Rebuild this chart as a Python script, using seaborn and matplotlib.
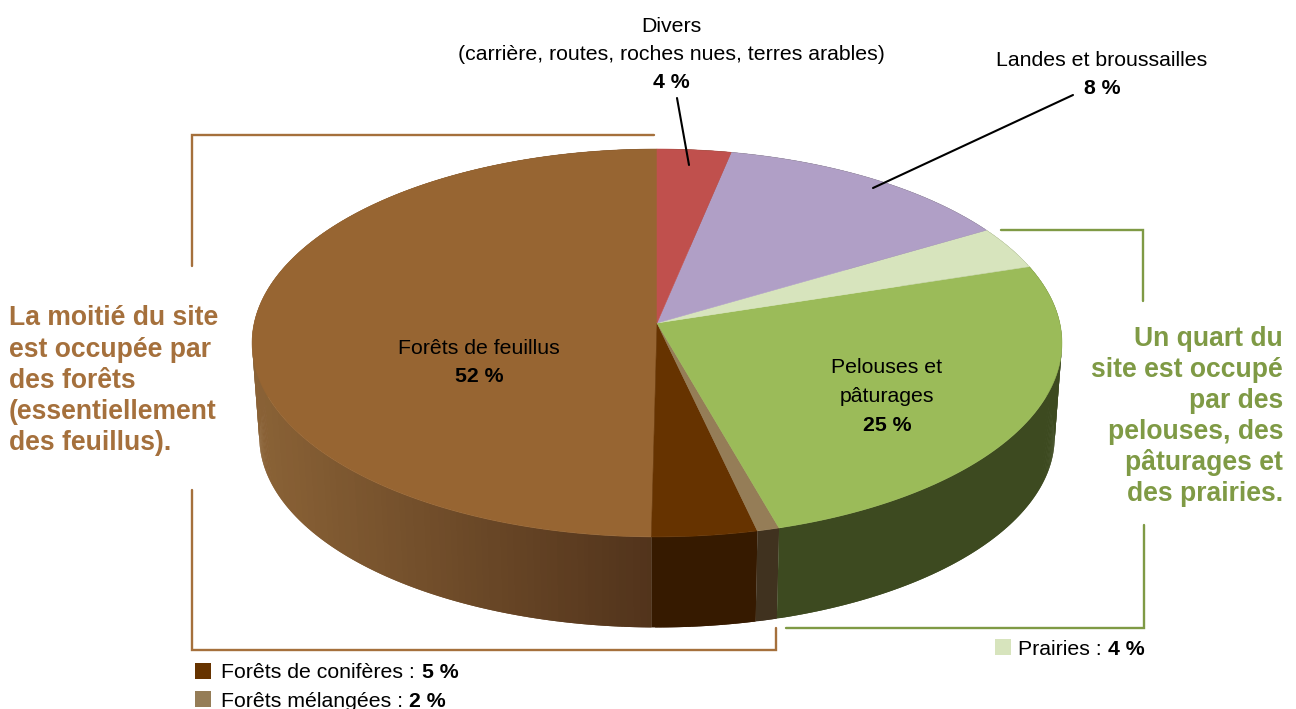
import numpy as np
import seaborn as sns
import matplotlib
matplotlib.use('Agg')
import matplotlib.pyplot as plt

# Slices in drawing order, counter-clockwise from 12 o'clock
slices = ['Forêts de feuillus', 'Forêts de conifères', 'Forêts mélangées',
          'Pelouses et pâturages', 'Prairies', 'Landes et broussailles', 'Divers']
# what the labels say
label_pct = [52, 5, 2, 25, 4, 8, 4]
# what the pie actually shows (the drawn angles differ from the labels)
drawn_share = [49.8, 3.8, 0.8, 25.5, 3.6, 13.25, 3.25]

top_colors = ['#976532', '#663300', '#957d57', '#9bbb59', '#d7e4bd', '#b09fc6', '#c0504d']
wall_left = ['#8a6236', '#361a00', '#40321f', '#3d4a20', '#3d4a20', '#3d4a20', '#3d4a20']
wall_right = ['#51331b', '#361a00', '#40321f', '#3d4a20', '#3d4a20', '#3d4a20', '#3d4a20']

brown = '#a5703c'
green = '#7f9a45'

sns.set_theme(style='white')
plt.rcParams['font.family'] = ['Liberation Sans', 'DejaVu Sans']

fig = plt.figure(figsize=(12.96, 7.09), dpi=100)
ax = fig.add_axes([0, 0, 1, 1])
ax.set_xlim(0, 1296)
ax.set_ylim(709, 0)
ax.axis('off')

# perspective projection of the pie disc
CX, CY = 657, 323
PERSP = 0.103
RX, RY = 402.8, 191.9
# bottom disc is a bit smaller and lower
ELL_Y = 343
BOT_Y = 437
BOT_SCALE = 0.982


def project(t):
    d = 1 + PERSP * np.sin(t)
    return CX + RX * np.cos(t) / d, CY - RY * np.sin(t) / d


def drop(x, y):
    return CX + (x - CX) * BOT_SCALE, BOT_Y + (y - ELL_Y) * BOT_SCALE


ends = np.cumsum([0] + drawn_share) / sum(drawn_share)
angles = np.pi / 2 + ends * 2 * np.pi

# walls first, the top faces hide the back part
for i in range(len(slices)):
    ts = np.linspace(angles[i], angles[i + 1], max(int(drawn_share[i] * 8), 8))
    pal = sns.blend_palette([wall_left[i], wall_right[i]], 64)
    xs, ys = project(ts)
    xb, yb = drop(xs, ys)
    for j in range(len(ts) - 1):
        frac = np.clip((xs[j] - 252) / (651 - 252), 0, 1)
        c = pal[int(frac * 63)]
        # each band runs under the next one so no seams show
        k = min(j + 2, len(ts) - 1)
        ax.fill([xs[j], xs[k], xb[k], xb[j]], [ys[j], ys[k], yb[k], yb[j]],
                color=c, lw=0, zorder=1)

for i in range(len(slices)):
    ts = np.linspace(angles[i], angles[i + 1], 200)
    xs, ys = project(ts)
    ax.fill(np.r_[CX, xs], np.r_[CY, ys], color=top_colors[i], lw=0.4, zorder=2)

# brackets
ax.plot([192, 192, 654], [266, 135, 135], color=brown, lw=1.7, zorder=3, solid_joinstyle='miter')
ax.plot([192, 192, 776, 776], [490, 650, 650, 628], color=brown, lw=1.7, zorder=3, solid_joinstyle='miter')
ax.plot([1001, 1143, 1143], [230, 230, 301], color=green, lw=1.7, zorder=3, solid_joinstyle='miter')
ax.plot([1144, 1144, 786], [525, 628, 628], color=green, lw=1.7, zorder=3, solid_joinstyle='miter')

# leader lines
ax.plot([677, 689], [98, 165], color='black', lw=1.5, zorder=3)
ax.plot([1073, 873], [95, 188], color='black', lw=1.5, zorder=3)

FS = 15.3


def label(x, y, s, bold=False, ha='center', size=FS, color='black'):
    ax.text(x, y, s, ha=ha, va='baseline', fontsize=size, color=color,
            fontweight='bold' if bold else 'normal', zorder=4)


label(671, 32, 'Divers')
label(671, 60, '(carrière, routes, roches nues, terres arables)')
label(671, 88, f'{label_pct[6]} %', bold=True)
label(1102, 66, slices[5])
label(1102, 94, f'{label_pct[5]} %', bold=True)
label(479, 354, slices[0])
label(479, 382, f'{label_pct[0]} %', bold=True)
label(887, 373, 'Pelouses et')
label(887, 402, 'pâturages')
label(887, 431, f'{label_pct[3]} %', bold=True)

# side comments
left_lines = ['La moitié du site', 'est occupée par', 'des forêts', '(essentiellement', 'des feuillus).']
for line, y in zip(left_lines, [325, 357, 388, 419, 450]):
    label(9, y, line, bold=True, ha='left', size=19.1, color=brown)

right_lines = ['Un quart du', 'site est occupé', 'par des', 'pelouses, des', 'pâturages et', 'des prairies.']
for line, y in zip(right_lines, [346, 377, 408, 439, 470, 501]):
    label(1283, y, line, bold=True, ha='right', size=19.1, color=green)

# small legends
for i, x0, y0, xt, yt, xv in [(1, 195, 663, 221, 678, 422), (2, 195, 691, 221, 707, 409),
                              (4, 995, 639, 1018, 655, 1108)]:
    ax.fill([x0, x0 + 16, x0 + 16, x0], [y0, y0, y0 + 16, y0 + 16], color=top_colors[i], lw=0, zorder=3)
    label(xt, yt, f'{slices[i]} : ', ha='left')
    label(xv, yt, f'{label_pct[i]} %', bold=True, ha='left')

plt.savefig('out.png', dpi=100)
